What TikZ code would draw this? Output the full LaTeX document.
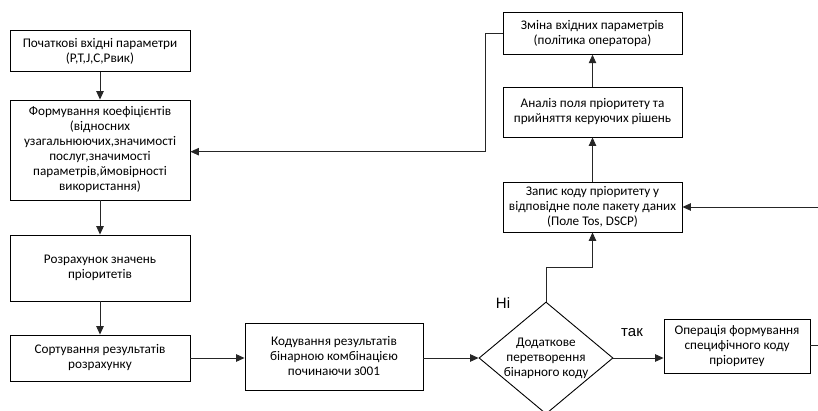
\documentclass[tikz,border=0pt]{standalone}
\usepackage{fontspec}
\setmainfont{Carlito}
\newfontfamily\labfont{Liberation Sans}
\usetikzlibrary{arrows.meta,shapes.geometric,calc}
\begin{document}
\begin{tikzpicture}[x=1pt,y=-1pt,
  box/.style={draw=black,line width=0.9pt,fill=white,align=center,inner sep=0pt,
    font=\fontsize{13.2}{15}\selectfont},
  dia/.style={draw=black,line width=0.9pt,diamond,shape aspect=1.2,align=center,inner sep=0pt,
    minimum width=134pt,minimum height=112pt,font=\fontsize{13.2}{15}\selectfont},
  conn/.style={line width=0.9pt,draw=black!85,-{Triangle[length=8.5pt,width=7.5pt]}},
  plain/.style={line width=0.9pt,draw=black!85},
  lab/.style={font=\labfont\fontsize{15}{17}\selectfont}]
\useasboundingbox (0,0) rectangle (818,411);
\clip (0,0) rectangle (818,411);
\fill[white] (0,0) rectangle (818,411);
\node[box,minimum width=180pt,minimum height=41pt] (b1) at (100,51) {Початкові вхідні параметри\\(P,T,J,C,Pвик)};
\node[box,minimum width=180pt,minimum height=100pt] (b2) at (100,150) {Формування коефіцієнтів\\(відносних\\узагальнюючих,значимості\\послуг,значимості\\параметрів,ймовірності\\використання)};
\node[box,minimum width=180pt,minimum height=66pt] (b3) at (100,268) {Розрахунок значень\\пріоритетів};
\node[box,minimum width=180pt,minimum height=46pt] (b4) at (100,358) {Сортування результатів\\розрахунку};
\node[box,minimum width=178pt,minimum height=67pt] (b5) at (334,356.5) {Кодування результатів\\бінарною комбінацією\\починаючи з001};
\node[dia] (d) at (546,358) {Додаткове\\перетворення\\бінарного коду};
\node[box,minimum width=146pt,minimum height=54pt] (b7) at (737,346) {Операція формування\\специфічного коду\\пріоритеу};
\node[box,minimum width=179pt,minimum height=50pt] (b6) at (592.5,207) {Запис коду пріоритету у\\відповідне поле пакету даних\\(Поле Tos, DSCP)};
\node[box,minimum width=179pt,minimum height=50pt] (b8) at (592.5,112) {Аналіз поля пріоритету та\\прийняття керуючих рішень};
\node[box,minimum width=179pt,minimum height=42pt] (b9) at (592.5,33.3) {Зміна вхідних параметрів\\(політика оператора)};
\node[lab] (ni) at (503,303) {Ні};
\node[lab] (tak) at (632,333) {так};
\coordinate (t1) at (546,267);
\coordinate (r1) at (830,345);
\coordinate (f1) at (485,33.3);
\coordinate (f2) at (485,151.7);
\draw[conn] (b1) -- (b2);
\draw[conn] (b2) -- (b3);
\draw[conn] (b3) -- (b4);
\draw[conn] (b4.east) -- (b4.east -| b5.west);
\draw[conn] (b5.east |- d.west) -- (d.west);
\draw[conn] (d.east) -- (d.east -| b7.west);
\draw[plain] (d.north) -- (t1);
\draw[conn] (t1) -| (b6.south);
\draw[conn] (b6) -- (b8);
\draw[conn] (b8) -- (b9);
\draw[conn] (b7.east |- r1) -- (r1) |- (b6.east);
\draw[conn] (b9.west) -- (f1) -- (f2) -- (f2 -| b2.east);
\end{tikzpicture}
\end{document}
